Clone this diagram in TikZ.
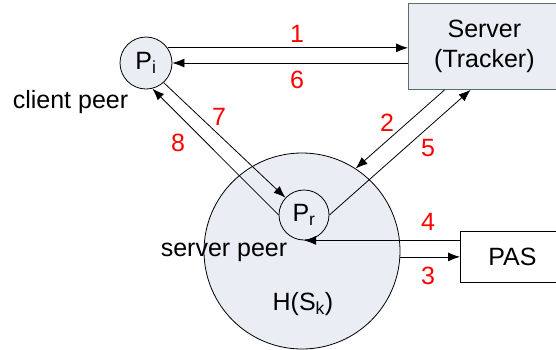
\documentclass[tikz,border=0pt]{standalone}
\usepackage{fontspec}
\setmainfont{Liberation Sans}
\usetikzlibrary{arrows.meta,calc}
\definecolor{peerfill}{HTML}{EAEEF4}
\definecolor{trackerline}{HTML}{5B6F63}
\begin{document}
\begin{tikzpicture}[x=1pt,y=-1pt,
  every node/.style={font=\fontsize{25}{30}\selectfont, inner sep=0pt},
  peer/.style={circle, draw=black, fill=peerfill, line width=0.8pt},
  msg/.style={draw=black, line width=0.8pt, -{Latex[length=12pt,width=9pt]}},
  stepnum/.style={text=red}]
\useasboundingbox (0,0) rectangle (556,349);
\clip (0,0) rectangle (556,349);

% swarm holding the server peer
\node[peer, minimum size=196pt] (swarm) at (302,251) {};
\node at (303,304) {H(S\textsubscript{k})};

% peers
\node[peer, minimum size=52pt] (pi) at (146,63) {P\textsubscript{i}};
\node[peer, minimum size=50pt] (pr) at (304,215) {P\textsubscript{r}};
\node at (70.5,102) {client peer};
\node at (224,252) {server peer};

% tracker and PAS
\node[draw=trackerline, fill=peerfill, line width=0.8pt, minimum width=152pt,
      minimum height=86pt, align=center, anchor=north west] (srv) at (408,3)
      {Server\\(Tracker)};
\node[draw=black, fill=white, line width=0.8pt, minimum width=104pt,
      minimum height=51pt, anchor=north west] (pas) at (460,231) {PAS};

% messages
\draw[msg] (pi.35) -- (srv.west |- pi.35);
\draw[msg] (srv.west |- pi.east) -- (pi.east);
\coordinate (s2) at ($(srv.south west)!0.24!(srv.south east)$);
\coordinate (s5) at ($(srv.south west)!0.41!(srv.south east)$);
\draw[msg] (s2) -- (swarm.57);
\draw[msg] (pr.east) -- (s5);
\draw[msg] (pi.-48) -- (pr.137);
\draw[msg] (pr.west) -- (pi.-76);
\draw[msg] (pas.west |- pr.south) -- (pr.south);
\draw[msg] (swarm.east |- pas.west) -- (pas.west);

% step numbers
\node[stepnum] at (297,34) {1};
\node[stepnum] at (387,123) {2};
\node[stepnum] at (428,276) {3};
\node[stepnum] at (428,222) {4};
\node[stepnum] at (428,148) {5};
\node[stepnum] at (297,80) {6};
\node[stepnum] at (219,117) {7};
\node[stepnum] at (178,143) {8};
\end{tikzpicture}
\end{document}
